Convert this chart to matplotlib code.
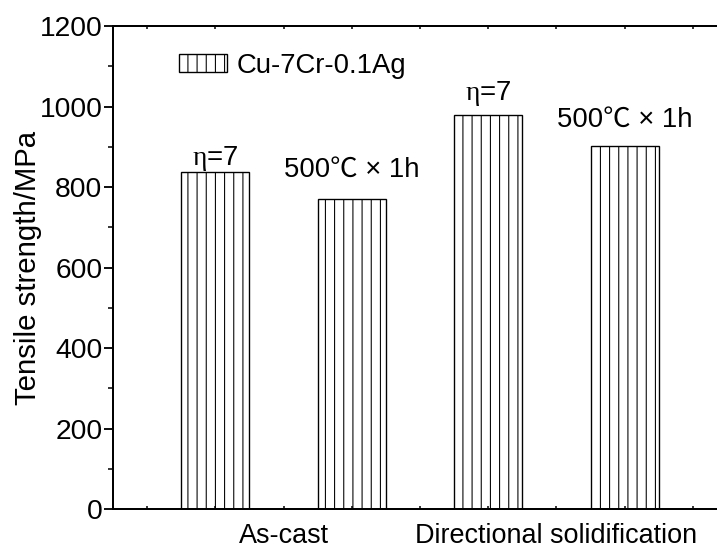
import numpy as np
import matplotlib
matplotlib.use("Agg")
import matplotlib.pyplot as plt

# data
positions = [1, 2, 3, 4]
strength = [837, 770, 979, 902]
bar_notes = ["$\\mathrm{\\eta}$=7", "500℃ × 1h", "$\\mathrm{\\eta}$=7", "500℃ × 1h"]
group_pos = [1.5, 3.5]
group_labels = ["As-cast", "Directional solidification"]
series_name = "Cu-7Cr-0.1Ag"

plt.rcParams['font.family'] = ['Liberation Sans', 'Noto Sans CJK SC', 'DejaVu Sans']
plt.rcParams['mathtext.fontset'] = 'custom'
plt.rcParams['mathtext.rm'] = 'Liberation Serif'
plt.rcParams['hatch.linewidth'] = 0.7

DPI = 110
fig = plt.figure(figsize=(717 / DPI, 554 / DPI), dpi=DPI)
ax = fig.add_axes([0.1576, 0.0812, 0.8564, 0.8718])

ax.bar(positions, strength, width=0.5, facecolor='white', edgecolor='black',
       linewidth=0.9, hatch='||', label=series_name)

# annotations above bars (baseline gap in points)
offsets = [4.6, 14.4, 9.8, 12.4]
for x, v, note, off in zip(positions, strength, bar_notes, offsets):
    ax.annotate(note, (x, v), xytext=(0, off), textcoords='offset points',
                ha='center', va='baseline', fontsize=18)

ax.set_xlim(0.25, 4.75)
ax.set_ylim(0, 1200)

ax.set_yticks(np.arange(0, 1201, 200))
ax.set_yticks(np.arange(100, 1200, 200), minor=True)
ax.tick_params(axis='y', which='major', direction='out', length=6, width=1.2,
               labelsize=18.5, pad=1)
ax.tick_params(axis='y', which='minor', direction='out', length=3.5, width=1.0)

ticks = np.arange(0.5, 4.51, 0.5)
ax.set_xticks(ticks)
ax.set_xticklabels([group_labels[group_pos.index(t)] if t in group_pos else ''
                    for t in ticks])
ax.tick_params(axis='x', which='major', direction='in', length=2, width=1.0,
               labelsize=17.7, pad=9, top=True)

for side in ['left', 'bottom', 'top']:
    ax.spines[side].set_linewidth(1.3)
ax.spines['right'].set_visible(False)

ax.set_ylabel("Tensile strength/MPa", fontsize=19.2, labelpad=-1.5)

ax.legend(loc='upper left', bbox_to_anchor=(0.108, 0.945), frameon=False,
          fontsize=18, handlelength=1.75, handleheight=0.65, handletextpad=0.35,
          borderpad=0, borderaxespad=0)

fig.savefig("out.png", dpi=DPI)
